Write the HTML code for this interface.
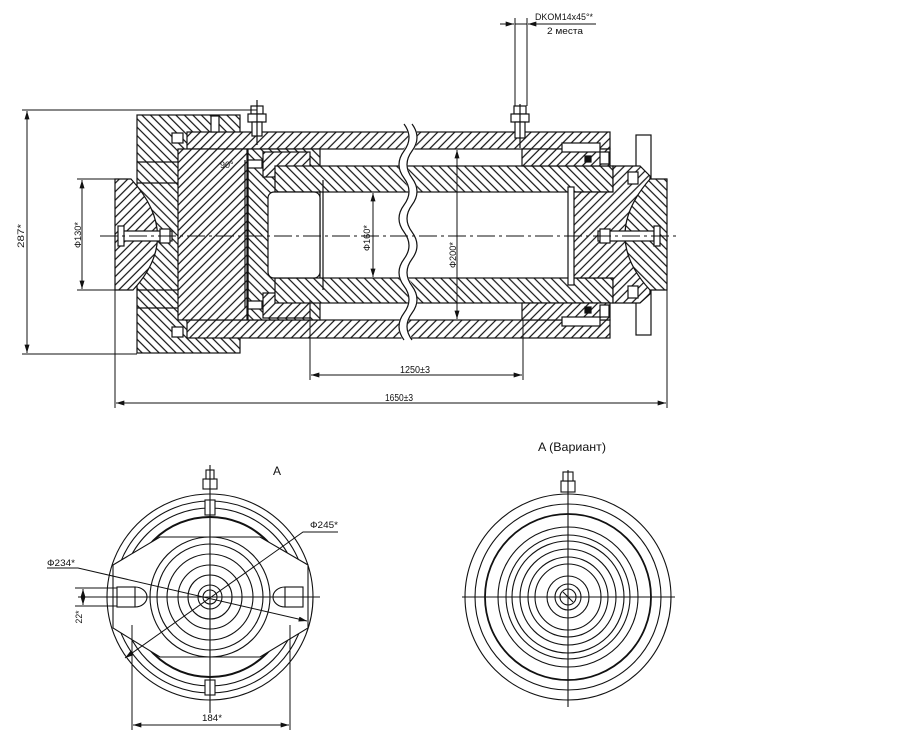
<!DOCTYPE html>
<html><head><meta charset="utf-8"><style>
html,body{margin:0;padding:0;background:#fff;}
svg{display:block;}
text{font-family:"Liberation Sans",sans-serif;fill:#111;stroke:none;}
</style></head><body>
<svg width="900" height="747" viewBox="0 0 900 747" xmlns="http://www.w3.org/2000/svg">
<defs>
<pattern id="ha" patternUnits="userSpaceOnUse" width="6" height="6" patternTransform="rotate(45)"><rect width="6" height="6" fill="#fff"/><line x1="1" y1="0" x2="1" y2="6" stroke="#111" stroke-width="1.2"/></pattern>
<pattern id="hb" patternUnits="userSpaceOnUse" width="6" height="6" patternTransform="rotate(-45)"><rect width="6" height="6" fill="#fff"/><line x1="1" y1="0" x2="1" y2="6" stroke="#111" stroke-width="1.2"/></pattern>
<marker id="ar" viewBox="0 0 10 6" refX="10" refY="3" markerWidth="9" markerHeight="5" orient="auto-start-reverse" markerUnits="userSpaceOnUse"><path d="M0,0 L10,3 L0,6 Z" fill="#111"/></marker>
</defs>
<rect width="900" height="747" fill="#fff"/>

<g stroke="#111" stroke-width="1.2">
<!-- left block -->
<rect x="137" y="115" width="103" height="238" fill="url(#hb)"/>
<!-- tube -->
<rect x="187" y="132" width="423" height="17" fill="url(#ha)"/>
<rect x="187" y="320" width="423" height="18" fill="url(#ha)"/>
<!-- inner cap piece -->
<rect x="178" y="149" width="69" height="171" fill="url(#ha)"/>
<rect x="172" y="133" width="11" height="10" fill="#fff"/>
<rect x="172" y="327" width="11" height="10" fill="#fff"/>
<rect x="211" y="116" width="8" height="16" fill="#fff"/>
<line x1="137" y1="162" x2="178" y2="162"/>
<line x1="137" y1="183" x2="178" y2="183"/>
<line x1="137" y1="290" x2="178" y2="290"/>
<line x1="137" y1="308" x2="178" y2="308"/>
<!-- piston -->
<rect x="248" y="149" width="72" height="171" fill="url(#hb)"/>
<rect x="263" y="152" width="47" height="25" fill="url(#ha)"/>
<rect x="263" y="293" width="47" height="25" fill="url(#ha)"/>
<line x1="245" y1="160" x2="245" y2="308"/>
<line x1="248" y1="160" x2="248" y2="308"/>
<rect x="248" y="160" width="14" height="8" fill="#fff"/>
<rect x="248" y="301" width="14" height="8" fill="#fff"/>
<!-- rod walls -->
<rect x="275" y="166" width="338" height="26" fill="url(#hb)"/>
<rect x="275" y="278" width="338" height="25" fill="url(#hb)"/>
<rect x="268" y="192" width="52" height="86" rx="6" fill="#fff"/>
<line x1="323" y1="180" x2="323" y2="290"/>
<!-- right gland -->
<rect x="522" y="149" width="88" height="17" fill="url(#ha)"/>
<rect x="522" y="303" width="88" height="17" fill="url(#ha)"/>
<rect x="562" y="143" width="38" height="9" fill="#fff"/>
<rect x="562" y="317" width="38" height="9" fill="#fff"/>
<rect x="600" y="152" width="9" height="12" fill="#fff"/>
<rect x="600" y="305" width="9" height="12" fill="#fff"/>
<rect x="585" y="156" width="6" height="6" fill="#111"/>
<rect x="585" y="307" width="6" height="6" fill="#111"/>
<!-- flange -->
<rect x="636" y="135" width="15" height="200" fill="#fff"/>
<!-- plug -->
<path d="M573,192 H613 V166 H640 L650,176 V294 L640,303 H613 V278 H573 Z" fill="url(#ha)"/>
<rect x="568" y="187" width="6" height="98" fill="#fff"/>
<rect x="628" y="172" width="10" height="12" fill="#fff"/>
<rect x="628" y="286" width="10" height="12" fill="#fff"/>
<!-- right spherical cap -->
<path d="M650,179 H667 V290 H650 Q600,236 650,179 Z" fill="url(#hb)"/>
<!-- left spherical cap -->
<path d="M115,179 H131 Q183,236 133,290 H115 Z" fill="url(#ha)"/>
<!-- center bolts -->
<rect x="122" y="231" width="50" height="10" fill="#fff"/>
<rect x="118" y="226" width="6" height="20" fill="#fff"/>
<rect x="160" y="229" width="10" height="14" fill="#fff"/>
<rect x="598" y="231" width="56" height="10" fill="#fff"/>
<rect x="654" y="226" width="6" height="20" fill="#fff"/>
<rect x="600" y="229" width="10" height="14" fill="#fff"/>
<!-- top bolts -->
<rect x="251" y="106" width="12" height="8" fill="#fff"/>
<rect x="248" y="114" width="18" height="8" fill="#fff"/>
<rect x="252" y="122" width="10" height="14" fill="#fff"/>
<line x1="257" y1="100" x2="257" y2="145"/>
<rect x="514" y="106" width="12" height="8" fill="#fff"/>
<rect x="511" y="114" width="18" height="8" fill="#fff"/>
<rect x="515" y="122" width="10" height="16" fill="#fff"/>
<line x1="520" y1="104" x2="520" y2="148"/>
</g>

<!-- break -->
<path d="M408,124 q10,13.5 0,27 t0,27 t0,27 t0,27 t0,27 t0,27 t0,27 t0,27" fill="none" stroke="#fff" stroke-width="9"/>
<path d="M404,124 q10,13.5 0,27 t0,27 t0,27 t0,27 t0,27 t0,27 t0,27 t0,27" fill="none" stroke="#111" stroke-width="1.2"/>
<path d="M412,124 q10,13.5 0,27 t0,27 t0,27 t0,27 t0,27 t0,27 t0,27 t0,27" fill="none" stroke="#111" stroke-width="1.2"/>

<!-- centerline -->
<line x1="100" y1="236" x2="680" y2="236" stroke="#111" stroke-width="0.9" stroke-dasharray="18,4,3,4"/>

<!-- dimensions main -->
<g stroke="#111" stroke-width="1" fill="none">
<line x1="22" y1="110" x2="257" y2="110"/>
<line x1="22" y1="354" x2="137" y2="354"/>
<line x1="27" y1="111" x2="27" y2="353" marker-start="url(#ar)" marker-end="url(#ar)"/>
<line x1="77" y1="179" x2="131" y2="179"/>
<line x1="77" y1="290" x2="133" y2="290"/>
<line x1="82" y1="180" x2="82" y2="289" marker-start="url(#ar)" marker-end="url(#ar)"/>
<line x1="373" y1="193" x2="373" y2="277" marker-start="url(#ar)" marker-end="url(#ar)"/>
<line x1="457" y1="150" x2="457" y2="319" marker-start="url(#ar)" marker-end="url(#ar)"/>
<line x1="310" y1="300" x2="310" y2="380"/>
<line x1="523" y1="320" x2="523" y2="380"/>
<line x1="311" y1="375" x2="522" y2="375" marker-start="url(#ar)" marker-end="url(#ar)"/>
<line x1="115" y1="290" x2="115" y2="408"/>
<line x1="667" y1="290" x2="667" y2="408"/>
<line x1="116" y1="403" x2="666" y2="403" marker-start="url(#ar)" marker-end="url(#ar)"/>
<line x1="515" y1="18" x2="515" y2="106"/>
<line x1="527" y1="18" x2="527" y2="106"/>
<line x1="500" y1="24" x2="514" y2="24" marker-end="url(#ar)"/>
<line x1="596" y1="24" x2="528" y2="24" marker-end="url(#ar)"/>
<line x1="515" y1="24" x2="527" y2="24"/>
</g>
<text x="535" y="20" font-size="9" textLength="58" lengthAdjust="spacingAndGlyphs">DKOM14x45°*</text>
<text x="547" y="34" font-size="9" textLength="36" lengthAdjust="spacingAndGlyphs">2 места</text>
<text x="220" y="168" font-size="9">90°</text>
<text transform="translate(24,236) rotate(-90)" text-anchor="middle" font-size="9" textLength="24" lengthAdjust="spacingAndGlyphs">287*</text>
<text transform="translate(81,235) rotate(-90)" text-anchor="middle" font-size="9" textLength="26" lengthAdjust="spacingAndGlyphs">Ф130*</text>
<text transform="translate(370,238) rotate(-90)" text-anchor="middle" font-size="9" textLength="26" lengthAdjust="spacingAndGlyphs">Ф160*</text>
<text transform="translate(456,255) rotate(-90)" text-anchor="middle" font-size="9" textLength="26" lengthAdjust="spacingAndGlyphs">Ф200*</text>
<text x="400" y="373" font-size="10" textLength="30" lengthAdjust="spacingAndGlyphs">1250±3</text>
<text x="385" y="401" font-size="10" textLength="28" lengthAdjust="spacingAndGlyphs">1650±3</text>

<!-- ===== LEFT VIEW A ===== -->
<g stroke="#111" stroke-width="1.1" fill="none">
<circle cx="210" cy="597" r="103"/>
<circle cx="210" cy="597" r="96"/>
<circle cx="210" cy="597" r="89"/>
<circle cx="210" cy="597" r="80" stroke-width="2"/>
<polygon points="113,565 160,537 260,537 308,565 308,628 260,657 160,657 113,628" fill="#fff"/>
<circle cx="210" cy="597" r="60"/>
<circle cx="210" cy="597" r="53"/>
<circle cx="210" cy="597" r="43"/>
<circle cx="210" cy="597" r="32"/>
<circle cx="210" cy="597" r="22"/>
<circle cx="210" cy="597" r="12"/>
<circle cx="210" cy="597" r="7"/>
<rect x="205" y="500" width="10" height="15" fill="#fff"/>
<rect x="205" y="680" width="10" height="15" fill="#fff"/>
<rect x="203" y="479" width="14" height="10" fill="#fff"/>
<rect x="206" y="470" width="8" height="9" fill="#fff"/>
<rect x="117" y="587" width="18" height="20" fill="#fff"/>
<path d="M135,587 A12,10 0 0 1 135,607"/>
<rect x="285" y="587" width="18" height="20" fill="#fff"/>
<path d="M285,587 A12,10 0 0 0 285,607"/>
<line x1="78" y1="597" x2="320" y2="597"/>
<line x1="210" y1="465" x2="210" y2="713"/>
<line x1="75" y1="588" x2="117" y2="588" stroke-width="1"/>
<line x1="75" y1="606" x2="117" y2="606" stroke-width="1"/>
<line x1="83" y1="589" x2="83" y2="605" stroke-width="1" marker-start="url(#ar)" marker-end="url(#ar)"/>
<polyline points="47,568 78,568 307,621" stroke-width="1" marker-end="url(#ar)"/>
<polyline points="125,658 303,532 338,532" stroke-width="1" marker-start="url(#ar)"/>
<line x1="132" y1="625" x2="132" y2="730" stroke-width="1"/>
<line x1="290" y1="625" x2="290" y2="730" stroke-width="1"/>
<line x1="133" y1="725" x2="289" y2="725" stroke-width="1" marker-start="url(#ar)" marker-end="url(#ar)"/>
</g>
<text x="273" y="475" font-size="12">A</text>
<text x="310" y="528" font-size="9" textLength="28" lengthAdjust="spacingAndGlyphs">Ф245*</text>
<text x="47" y="566" font-size="9" textLength="28" lengthAdjust="spacingAndGlyphs">Ф234*</text>
<text transform="translate(82,617) rotate(-90)" text-anchor="middle" font-size="9" textLength="13" lengthAdjust="spacingAndGlyphs">22*</text>
<text x="202" y="721" font-size="9" textLength="20" lengthAdjust="spacingAndGlyphs">184*</text>

<!-- ===== RIGHT VIEW A (variant) ===== -->
<g stroke="#111" stroke-width="1.1" fill="none">
<circle cx="568" cy="597" r="103"/>
<circle cx="568" cy="597" r="93"/>
<circle cx="568" cy="597" r="83" stroke-width="1.8"/>
<circle cx="568" cy="597" r="70"/>
<circle cx="568" cy="597" r="62"/>
<circle cx="568" cy="597" r="56"/>
<circle cx="568" cy="597" r="48"/>
<circle cx="568" cy="597" r="40"/>
<circle cx="568" cy="597" r="33"/>
<circle cx="568" cy="597" r="21"/>
<circle cx="568" cy="597" r="13"/>
<circle cx="568" cy="597" r="8"/>
<rect x="561" y="481" width="14" height="11" fill="#fff"/>
<rect x="563" y="472" width="10" height="9" fill="#fff"/>
<line x1="462" y1="597" x2="675" y2="597"/>
<line x1="568" y1="470" x2="568" y2="707"/>
<line x1="563" y1="592" x2="573" y2="602"/>
</g>
<text x="538" y="451" font-size="12" textLength="68" lengthAdjust="spacingAndGlyphs">A (Вариант)</text>
</svg>
</body></html>
